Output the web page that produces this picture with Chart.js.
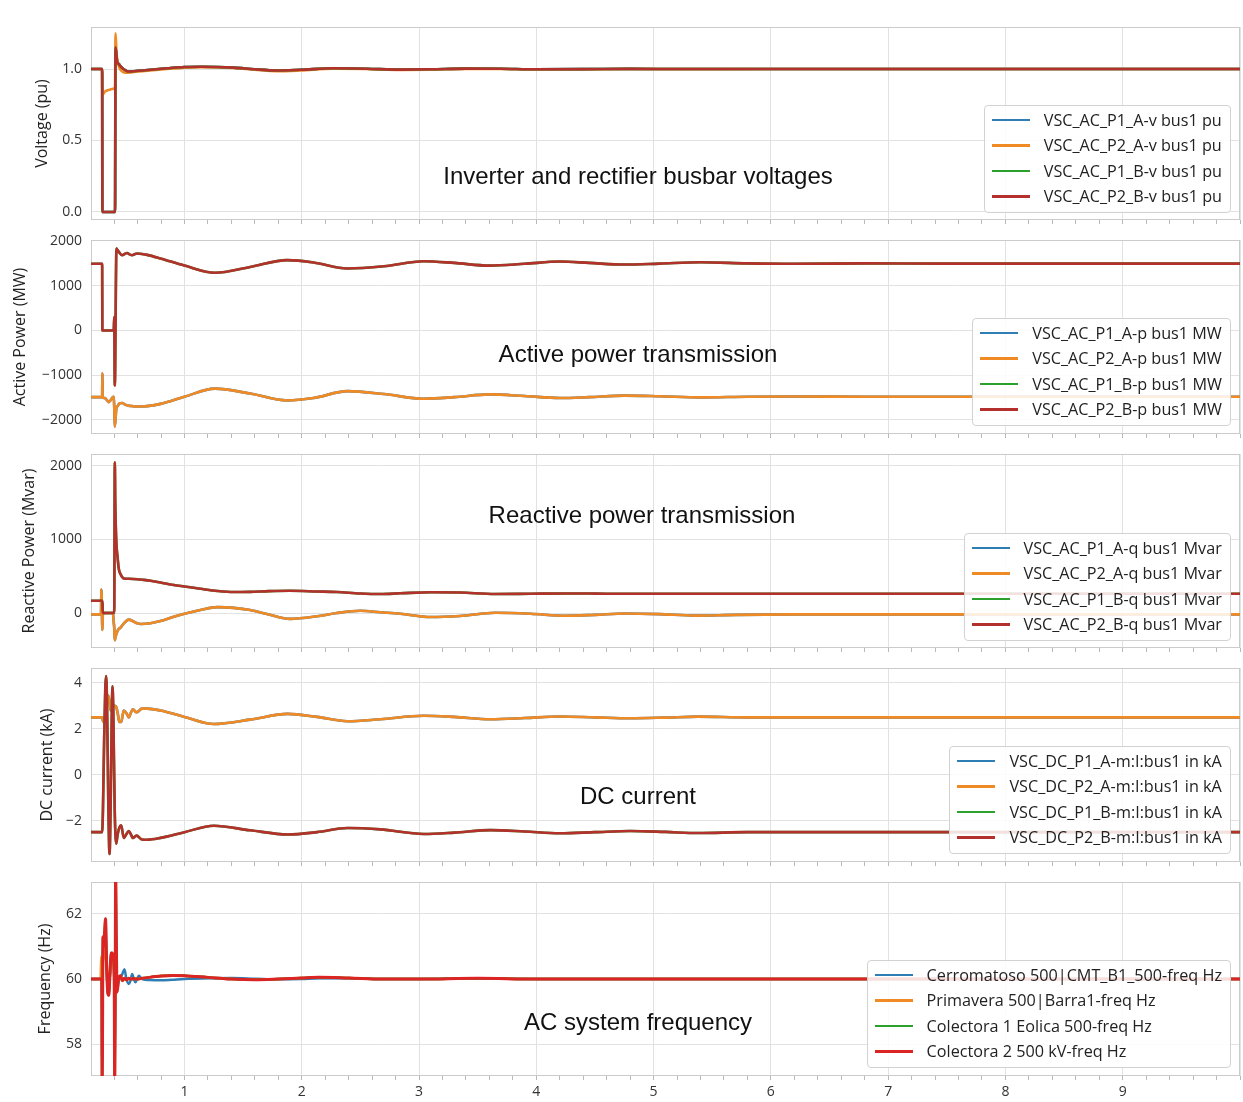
<!DOCTYPE html>
<html>
<head>
<meta charset="utf-8">
<script src="https://cdn.jsdelivr.net/npm/chart.js@4/dist/chart.umd.min.js"></script>
<style>
body { margin: 0; background: #fff; }
#wrap { position: relative; width: 1243px; height: 1102px; overflow: hidden; font-family: "Open Sans", sans-serif; }
.pane { position: absolute; left: 0; }
.note { position: absolute; transform: translate(-50%, -50%); font: 24px "Liberation Sans", Arial, sans-serif; color: #111; white-space: nowrap; }
.legend { position: absolute; right: 12px; background: rgba(255,255,255,0.85); border: 1px solid #d2d2d2; border-radius: 4px; padding: 1px 8px 3px 7px; font: 16.2px "Open Sans", sans-serif; color: #222; }
.legend .row { height: 25.5px; display: flex; align-items: center; white-space: nowrap; }
.legend .sw { display: inline-block; width: 38px; height: 2.5px; margin-right: 14px; }
</style>
</head>
<body>
<div id="wrap"></div>
<script>
// shared x axis
var xMin = 0.203, xMax = 10.0;
var xTickLabels = [1, 2, 3, 4, 5, 6, 7, 8, 9];

// y tick values per panel
var yTicksV = [0, 0.5, 1.0];
var yTicksP = [-2000, -1000, 0, 1000, 2000];
var yTicksQ = [0, 1000, 2000];
var yTicksI = [-2, 0, 2, 4];
var yTicksF = [58, 60, 62];

// voltages (pu)
var tV = [0.2, 0.298, 0.3, 0.32, 0.34, 0.36, 0.38, 0.405, 0.408, 0.412,
  0.42, 0.426, 0.44, 0.454, 0.48, 0.511, 0.54, 0.568, 0.64, 0.71,
  0.85, 1.0, 1.14, 1.42, 1.6, 1.79, 1.99, 2.27, 2.55, 2.84,
  3.1, 3.4, 3.7, 4.0, 4.4, 4.8, 5.3, 6.0, 7.0, 8.0, 9.0, 10.0];
var vRed = [1.0, 1.0, 0.0, 0.0, 0.0, 0.0, 0.0, 0.0, 0.0, 1.15,
  1.1, 1.05, 1.035, 1.02, 1.0, 0.985, 0.983, 0.985, 0.99, 0.995,
  1.005, 1.014, 1.016, 1.01, 0.998, 0.99, 0.995, 1.005, 1.002, 0.996,
  0.998, 1.003, 1.002, 0.998, 0.999, 1.001, 1.0, 1.0, 1.0, 1.0, 1.0, 1.0];
var vOrg = [1.0, 1.0, 0.82, 0.84, 0.85, 0.855, 0.86, 0.865, 0.87, 1.25,
  1.12, 1.07, 1.02, 0.995, 0.978, 0.975, 0.976, 0.98, 0.985, 0.99,
  1.0, 1.01, 1.013, 1.007, 0.995, 0.985, 0.99, 1.002, 1.0, 0.994,
  0.996, 1.001, 1.0, 0.997, 0.998, 1.0, 0.999, 1.0, 1.0, 1.0, 1.0, 1.0];

// active power (MW)
var tP = [0.2, 0.298, 0.3, 0.302, 0.305, 0.32, 0.34, 0.355, 0.37, 0.385,
  0.397, 0.401, 0.406, 0.42, 0.426, 0.445, 0.469, 0.49, 0.511, 0.532,
  0.554, 0.575, 0.597, 0.639, 0.682, 0.795, 1.0, 1.26, 1.56, 1.876,
  2.1, 2.39, 2.7, 3.04, 3.3, 3.6, 3.9, 4.2, 4.45, 4.75,
  5.05, 5.4, 5.8, 6.2, 6.8, 7.5, 8.5, 10.0];
var pRed = [1490, 1490, 0, 0, 0, 0, 0, 0, 0, 0,
  0, 300, -1230, 1830, 1810, 1740, 1680, 1710, 1730, 1700,
  1680, 1705, 1720, 1710, 1690, 1610, 1450, 1290, 1420, 1572,
  1520, 1385, 1435, 1548, 1510, 1450, 1490, 1540, 1510, 1473,
  1495, 1525, 1500, 1490, 1500, 1495, 1495, 1495];
var pOrg = [-1490, -1490, -950, -1450, -1500, -1510, -1560, -1600, -1560, -1500,
  -1480, -1700, -2150, -1720, -1700, -1630, -1620, -1650, -1670, -1685,
  -1690, -1695, -1700, -1700, -1690, -1640, -1480, -1300, -1410, -1564,
  -1510, -1356, -1420, -1525, -1490, -1428, -1465, -1510, -1490, -1455,
  -1470, -1495, -1480, -1475, -1480, -1480, -1480, -1480];

// reactive power (Mvar)
var tQ = [0.2, 0.288, 0.292, 0.3, 0.304, 0.31, 0.33, 0.36, 0.39, 0.397,
  0.401, 0.406, 0.41, 0.418, 0.43, 0.44, 0.454, 0.483, 0.525, 0.597,
  0.625, 0.71, 0.795, 0.909, 1.0, 1.136, 1.28, 1.42, 1.56, 1.72,
  1.9, 2.13, 2.3, 2.5, 2.67, 2.84, 3.1, 3.35, 3.65, 3.95,
  4.25, 4.5, 4.76, 5.05, 5.35, 5.7, 6.2, 7.0, 8.0, 9.0, 10.0];
var qRed = [167, 167, 167, 167, 0, 0, 0, 0, 0, 0,
  0, 2050, 1500, 1000, 750, 600, 530, 470, 465, 460,
  455, 440, 415, 380, 360, 330, 300, 285, 288, 298,
  303, 293, 285, 265, 258, 268, 283, 278, 258, 262,
  266, 264, 261, 262, 262, 261, 262, 262, 262, 262, 262];
var qOrg = [-18, -18, 320, -230, -20, 0, 0, 0, 0, -130,
  -200, -370, -340, -290, -240, -215, -200, -140, -90, -140,
  -150, -140, -110, -50, -10, 40, 80, 70, 40, -20,
  -80, -45, 0, 30, 10, -10, -55, -40, 3, -10,
  -38, -25, -6, -15, -35, -25, -18, -18, -18, -18, -18];

// DC current (kA)
var tI = [0.2, 0.298, 0.305, 0.315, 0.325, 0.332, 0.34, 0.35, 0.361, 0.37,
  0.38, 0.386, 0.393, 0.405, 0.418, 0.43, 0.445, 0.46, 0.483, 0.503,
  0.525, 0.543, 0.56, 0.591, 0.639, 0.682, 0.795, 1.0, 1.25, 1.56,
  1.88, 2.13, 2.39, 2.67, 3.04, 3.3, 3.61, 3.9, 4.2, 4.5,
  4.8, 5.1, 5.38, 5.8, 6.3, 7.0, 8.0, 9.0, 10.0];
var iRed = [-2.5, -2.5, -1.5, 1.5, 3.8, 4.3, 3.0, -1.0, -3.45, -1.5,
  2.5, 3.85, 2.8, -1.5, -3.0, -2.6, -2.3, -2.2, -2.75, -2.6,
  -2.45, -2.6, -2.75, -2.65, -2.82, -2.83, -2.75, -2.5, -2.22, -2.42,
  -2.6, -2.5, -2.32, -2.38, -2.58, -2.52, -2.41, -2.47, -2.55, -2.5,
  -2.45, -2.49, -2.54, -2.5, -2.5, -2.5, -2.5, -2.5, -2.5];
var iOrg = [2.5, 2.5, 2.35, 2.3, 2.6, 2.9, 3.3, 3.45, 3.2, 2.8,
  2.9, 3.0, 3.05, 3.0, 2.95, 2.7, 2.3, 2.3, 2.8, 2.7,
  2.5, 2.7, 2.85, 2.72, 2.88, 2.88, 2.8, 2.52, 2.21, 2.4,
  2.65, 2.52, 2.33, 2.42, 2.57, 2.52, 2.42, 2.47, 2.54, 2.5,
  2.46, 2.49, 2.53, 2.5, 2.5, 2.5, 2.5, 2.5, 2.5];

// frequency (Hz)
var tF = [0.2, 0.285, 0.29, 0.295, 0.298, 0.301, 0.305, 0.31, 0.318, 0.327,
  0.335, 0.345, 0.355, 0.365, 0.375, 0.385, 0.395, 0.401, 0.405, 0.409,
  0.413, 0.418, 0.426, 0.44, 0.454, 0.47, 0.488, 0.505, 0.525, 0.54,
  0.554, 0.568, 0.582, 0.596, 0.61, 0.64, 0.7, 0.8, 0.9, 1.0,
  1.2, 1.4, 1.6, 1.8, 2.0, 2.15, 2.4, 2.7, 3.0, 3.5,
  4.0, 5.0, 6.0, 7.0, 8.0, 9.0, 10.0];
var fRed = [60, 60, 60, 60, 56.5, 58.0, 61.3, 61.0, 61.4, 61.85,
  60.6, 59.6, 59.5, 60.2, 60.8, 60.8, 60.6, 60.0, 56.5, 59.0,
  63.5, 61.5, 59.6, 60.05, 60.1, 59.95, 60.02, 59.97, 60.02, 60.0,
  60.0, 60.02, 60.0, 60.0, 60.0, 60.02, 60.05, 60.09, 60.11, 60.1,
  60.05, 60.0, 59.98, 60.0, 60.03, 60.05, 60.03, 60.0, 60.0, 60.02,
  60, 60, 60, 60, 60, 60, 60];
var fBlue = [60, 60, 60, 60, 57.5, 58.5, 61.0, 60.9, 61.2, 61.5,
  60.5, 59.7, 59.6, 60.1, 60.6, 60.7, 60.5, 60.0, 57.5, 59.5,
  62.5, 61.0, 59.8, 59.95, 60.05, 60.15, 60.3, 60.0, 59.85, 59.95,
  60.15, 60.0, 59.9, 60.0, 60.1, 60.0, 59.97, 59.96, 59.98, 60.0,
  60.02, 60.03, 60.01, 59.99, 60.0, 60.02, 60.02, 60.0, 60.0, 60.01,
  60, 60, 60, 60, 60, 60, 60];
var fOrg = [60, 60, 60.7, 60.2, 59.2, 59.6, 60.5, 60.6, 60.9, 61.1,
  60.4, 59.8, 59.7, 60.1, 60.5, 60.6, 60.4, 60.0, 58.5, 59.6,
  61.5, 60.6, 59.8, 60.02, 60.08, 59.97, 60.02, 59.98, 60.02, 60.0,
  60.0, 60.02, 60.0, 60.0, 60.0, 60.02, 60.05, 60.09, 60.11, 60.1,
  60.05, 60.0, 59.98, 60.0, 60.03, 60.05, 60.03, 60.0, 60.0, 60.02,
  60, 60, 60, 60, 60, 60, 60];

var blue = '#2f7db5', orange = '#f08a24', green = '#2ca02c', darkRed = '#b3302c', brightRed = '#dc2424';

var panels = [
  { top: 27, h: 193, t: tV, ys: [vRed, vOrg, vRed, vRed], red: darkRed,
    names: ['VSC_AC_P1_A-v bus1 pu', 'VSC_AC_P2_A-v bus1 pu', 'VSC_AC_P1_B-v bus1 pu', 'VSC_AC_P2_B-v bus1 pu'],
    yMin: -0.056, yMax: 1.294, yTicks: yTicksV, dec: 1, title: 'Voltage (pu)', titleX: 42,
    note: 'Inverter and rectifier busbar voltages', noteX: 638, noteY: 176, legTop: 105 },
  { top: 240, h: 194, t: tP, ys: [pOrg, pOrg, pRed, pRed], red: darkRed,
    names: ['VSC_AC_P1_A-p bus1 MW', 'VSC_AC_P2_A-p bus1 MW', 'VSC_AC_P1_B-p bus1 MW', 'VSC_AC_P2_B-p bus1 MW'],
    yMin: -2313, yMax: 2022, yTicks: yTicksP, dec: 0, title: 'Active Power (MW)', titleX: 20,
    note: 'Active power transmission', noteX: 638, noteY: 354, legTop: 318 },
  { top: 454, h: 194, t: tQ, ys: [qOrg, qOrg, qRed, qRed], red: darkRed,
    names: ['VSC_AC_P1_A-q bus1 Mvar', 'VSC_AC_P2_A-q bus1 Mvar', 'VSC_AC_P1_B-q bus1 Mvar', 'VSC_AC_P2_B-q bus1 Mvar'],
    yMin: -476, yMax: 2163, yTicks: yTicksQ, dec: 0, title: 'Reactive Power (Mvar)', titleX: 29,
    note: 'Reactive power transmission', noteX: 642, noteY: 515, legTop: 533 },
  { top: 668, h: 194, t: tI, ys: [iOrg, iOrg, iRed, iRed], red: darkRed,
    names: ['VSC_DC_P1_A-m:I:bus1 in kA', 'VSC_DC_P2_A-m:I:bus1 in kA', 'VSC_DC_P1_B-m:I:bus1 in kA', 'VSC_DC_P2_B-m:I:bus1 in kA'],
    yMin: -3.8, yMax: 4.65, yTicks: yTicksI, dec: 0, title: 'DC current (kA)', titleX: 47,
    note: 'DC current', noteX: 638, noteY: 796, legTop: 746 },
  { top: 882, h: 194, t: tF, ys: [fBlue, fOrg, fRed, fRed], red: brightRed,
    names: ['Cerromatoso 500|CMT_B1_500-freq Hz', 'Primavera 500|Barra1-freq Hz', 'Colectora 1 Eolica 500-freq Hz', 'Colectora 2 500 kV-freq Hz'],
    yMin: 57.02, yMax: 62.98, yTicks: yTicksF, dec: 0, title: 'Frequency (Hz)', titleX: 45,
    note: 'AC system frequency', noteX: 638, noteY: 1022, legTop: 960, bottom: true }
];

function isMajor(v) { return Math.abs(v - Math.round(v)) < 1e-6; }

var framePlugin = {
  id: 'frame',
  beforeDatasetsDraw: function (chart) {
    var a = chart.chartArea, c = chart.ctx;
    c.save();
    c.strokeStyle = '#cbcbcb';
    c.lineWidth = 1;
    c.strokeRect(Math.round(a.left) + 0.5, Math.round(a.top) + 0.5, Math.round(a.right - a.left) - 1, Math.round(a.bottom - a.top) - 1);
    c.restore();
  }
};

var wrap = document.getElementById('wrap');

panels.forEach(function (p) {
  var xh = p.bottom ? 26 : 12;
  var div = document.createElement('div');
  div.className = 'pane';
  div.style.top = (p.top - 10) + 'px';
  var cv = document.createElement('canvas');
  cv.width = 1243; cv.height = p.h + 10 + xh;
  cv.style.width = '1243px'; cv.style.height = cv.height + 'px';
  div.appendChild(cv);
  wrap.appendChild(div);

  var colors = [blue, orange, green, p.red];
  var widths = p.bottom ? [2.5, 2.5, 2.5, 3] : [2.6, 2.6, 2.6, 2.6];
  var datasets = p.ys.map(function (ys, k) {
    return {
      label: p.names[k],
      data: p.t.map(function (t, i) { return { x: t, y: ys[i] }; }),
      borderColor: colors[k],
      borderWidth: widths[k],
      pointRadius: 0,
      fill: false,
      cubicInterpolationMode: 'monotone',
      order: 4 - k
    };
  });

  new Chart(cv, {
    type: 'line',
    data: { datasets: datasets },
    options: {
      responsive: false,
      animation: false,
      events: [],
      parsing: false,
      layout: { padding: { top: 10, right: 3, left: 0, bottom: 0 } },
      plugins: { legend: { display: false }, tooltip: { enabled: false } },
      scales: {
        x: {
          type: 'linear', min: xMin, max: xMax,
          afterBuildTicks: function (s) {
            var ticks = [];
            for (var k = 2; k <= 50; k++) ticks.push({ value: Math.round(k * 2) / 10 });
            s.ticks = ticks;
          },
          afterFit: function (s) {
            s.height = xh;
            s.paddingLeft = 0; s.paddingRight = 0;
          },
          border: { display: false },
          grid: {
            color: function (c) { return c.tick && isMajor(c.tick.value) ? '#e2e2e2' : 'rgba(0,0,0,0)'; },
            tickColor: '#b8b8b8', tickLength: 4, lineWidth: 1
          },
          ticks: {
            display: !!p.bottom, autoSkip: false, maxRotation: 0, padding: 4,
            color: '#333', font: { family: 'Open Sans', size: 14 },
            callback: function (v) {
              var r = Math.round(v * 10) / 10;
              return xTickLabels.indexOf(r) >= 0 ? String(r) : '';
            }
          }
        },
        y: {
          min: p.yMin, max: p.yMax,
          afterBuildTicks: function (s) {
            s.ticks = p.yTicks.map(function (v) { return { value: v }; });
          },
          afterFit: function (s) {
            s.width = 91;
            s.paddingTop = 0; s.paddingBottom = 0;
          },
          border: { display: false },
          grid: { color: '#e2e2e2', drawTicks: false },
          ticks: {
            padding: 9,
            color: '#333', font: { family: 'Open Sans', size: 14 },
            callback: function (v) {
              var s = Math.abs(v).toFixed(p.dec);
              return v < 0 ? '\u2212' + s : s;
            }
          },
          title: {
            display: true, text: p.title, color: '#222',
            font: { family: 'Open Sans', size: 16 },
            padding: { top: p.titleX - 9.6, bottom: 0 }
          }
        }
      }
    },
    plugins: [framePlugin]
  });

  var note = document.createElement('div');
  note.className = 'note';
  note.textContent = p.note;
  note.style.left = p.noteX + 'px';
  note.style.top = p.noteY + 'px';
  wrap.appendChild(note);

  var leg = document.createElement('div');
  leg.className = 'legend';
  leg.style.top = p.legTop + 'px';
  datasets.forEach(function (d) {
    var row = document.createElement('div');
    row.className = 'row';
    var sw = document.createElement('span');
    sw.className = 'sw';
    sw.style.background = d.borderColor;
    var tx = document.createElement('span');
    tx.textContent = d.label;
    row.appendChild(sw);
    row.appendChild(tx);
    leg.appendChild(row);
  });
  wrap.appendChild(leg);
});
</script>
</body>
</html>
